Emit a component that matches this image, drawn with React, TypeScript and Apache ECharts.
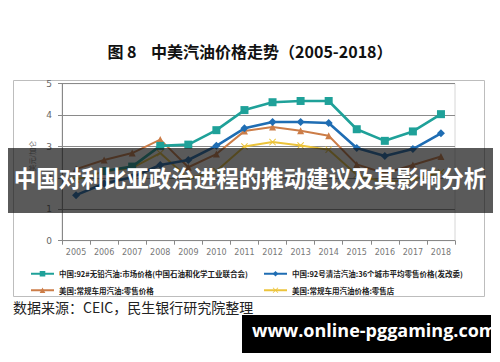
import React, { useEffect, useRef } from "react";
import * as echarts from "echarts";

const years = ["2005", "2006", "2007", "2008", "2009", "2010", "2011", "2012", "2013", "2014", "2015", "2016", "2017", "2018"];
const cnMarket = [null, 2.22, 2.36, 3.02, 3.06, 3.52, 4.16, 4.41, 4.45, 4.45, 3.55, 3.18, 3.48, 4.03];
const cnRetail = [1.45, 1.82, 2.02, 2.41, 2.57, 3.02, 3.58, 3.78, 3.78, 3.75, 2.95, 2.7, 2.92, 3.42];
const usRetail = [2.28, 2.57, 2.79, 3.22, 2.34, 2.76, 3.49, 3.62, 3.5, 3.34, 2.43, 2.15, 2.41, 2.68];
const usStore = [1.95, 2.2, 2.32, 2.79, 1.98, 2.22, 3.0, 3.14, 3.03, 2.9, 2.1, 1.86, 1.95, 2.18];
const yTicks = { min: 0, max: 5, interval: 1 };

const names = [
  "中国:92#无铅汽油:市场价格(中国石油和化学工业联合会)",
  "中国:92号清洁汽油:36个城市平均零售价格(发改委)",
  "美国:常规车用汽油:零售价格",
  "美国:常规车用汽油价格:零售店",
];
const colors = ["#1fa199", "#1f6db3", "#cc7d48", "#ecc43c"];
const xSymbol = "path://M0,1L1,0L5,4L9,0L10,1L6,5L10,9L9,10L5,6L1,10L0,9L4,5Z";

export default function App() {
  const ref = useRef<HTMLDivElement>(null);
  useEffect(() => {
    if (!ref.current) return;
    const chart = echarts.init(ref.current, null, { renderer: "svg" });
    const legendText = { fontSize: 7.5, fontWeight: "bold", color: "#222", fontFamily: "Noto Sans CJK SC" };
    chart.setOption({
      animation: false,
      backgroundColor: "#fff",
      grid: { left: 62, right: 45, top: 83.7, bottom: 121.3, show: true, borderColor: "#d6d6d6", borderWidth: 1 },
      legend: [
        {
          data: [names[0], names[2]], orient: "vertical", left: 25, top: 265, itemWidth: 23, itemHeight: 7,
          itemGap: 9, textStyle: legendText,
        },
        {
          data: [names[1], names[3]], orient: "vertical", left: 258, top: 265, itemWidth: 23, itemHeight: 7,
          itemGap: 9, textStyle: legendText,
        },
      ],
      xAxis: {
        type: "category", data: years, boundaryGap: true,
        axisLine: { lineStyle: { color: "#888" } },
        axisTick: { show: true, lineStyle: { color: "#888" }, length: 4 },
        axisLabel: { fontSize: 8, color: "#777", margin: 8, fontFamily: "DejaVu Sans" },
      },
      yAxis: {
        type: "value", ...yTicks,
        name: "美元/加仑", nameLocation: "middle", nameGap: 22, nameRotate: 90,
        nameTextStyle: { fontSize: 7, color: "#777", fontFamily: "Noto Sans CJK SC", padding: [0, 0, 0, 12] },
        axisLine: { show: true, lineStyle: { color: "#888" } },
        axisTick: { show: true, lineStyle: { color: "#888" }, length: 4 },
        axisLabel: { fontSize: 9, color: "#666", margin: 10, fontFamily: "DejaVu Sans" },
        splitLine: { lineStyle: { color: "#8a8a8a", width: 1 } },
      },
      series: [
        { name: names[0], type: "line", data: cnMarket, color: colors[0], symbol: "rect", symbolSize: 8, lineStyle: { width: 2.6 }, z: 5 },
        { name: names[1], type: "line", data: cnRetail, color: colors[1], symbol: "diamond", symbolSize: 8, lineStyle: { width: 2.6 }, z: 4 },
        { name: names[2], type: "line", data: usRetail, color: colors[2], symbol: "triangle", symbolSize: 7, lineStyle: { width: 2 }, z: 3 },
        { name: names[3], type: "line", data: usStore, color: colors[3], symbol: xSymbol, symbolSize: 7, lineStyle: { width: 2 }, z: 2 },
      ],
      graphic: [
        { type: "rect", z: -10, shape: { x: 13.5, y: 80.5, width: 471, height: 216 }, style: { fill: "none", stroke: "#bdbdbd", lineWidth: 1 } },
        {
          type: "text", left: "center", top: 43, z: 10,
          style: { text: "图 8    中美汽油价格走势（2005-2018）", fontSize: 16, fontWeight: "bold", fill: "#111", fontFamily: "Noto Sans CJK SC" },
        },
        {
          type: "text", left: 13, top: 300, z: 10,
          style: { text: "数据来源：CEIC，民生银行研究院整理", fontSize: 14, fill: "#222", fontFamily: "Noto Sans CJK SC" },
        },
        { type: "rect", z: 100, shape: { x: 8, y: 148, width: 485, height: 65 }, style: { fill: "rgba(20,20,20,0.7)" } },
        {
          type: "text", left: "center", top: 166, z: 101,
          style: { text: "中国对利比亚政治进程的推动建议及其影响分析", fontSize: 22.5, fontWeight: "bold", fill: "#fff", fontFamily: "Noto Sans CJK SC" },
        },
        { type: "rect", z: 100, shape: { x: 242, y: 315, width: 249, height: 38 }, style: { fill: "#000" } },
        {
          type: "text", left: 252, top: 321, z: 101,
          style: { text: "www.online-pggaming.com", fontSize: 18, fontWeight: "bold", fill: "#fff", fontFamily: "Open Sans" },
        },
      ],
    });
    return () => chart.dispose();
  }, []);
  return <div ref={ref} style={{ position: "absolute", left: 0, top: 0, width: 500, height: 362 }} />;
}
